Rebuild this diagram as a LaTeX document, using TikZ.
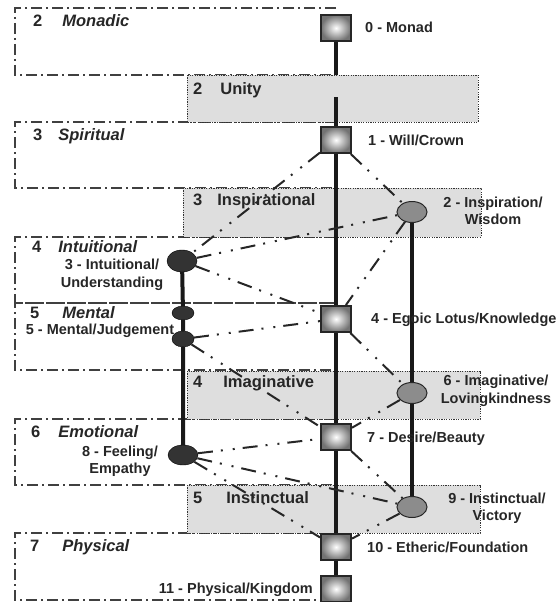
\documentclass[tikz,border=0pt]{standalone}
\usepackage{fontspec}
\setmainfont{Liberation Sans}
\usetikzlibrary{shapes.geometric}

\tikzset{
  level/.style={black!75, line width=1.4pt, dash pattern=on 11pt off 4pt on 2pt off 4pt},
  band/.style={fill=black!13, draw=black!80, line width=1pt, dash pattern=on 1.2pt off 1.2pt},
  sefira/.style={rectangle, minimum width=30pt, minimum height=26pt, inner sep=0pt,
    draw=black!85, line width=2pt, inner color=white, outer color=black!55},
  dark/.style={ellipse, fill=black!80, draw=black, minimum width=30pt, minimum height=21pt, inner sep=0pt},
  pale/.style={ellipse, fill=black!45, draw=black!85, line width=1pt, minimum width=30pt, minimum height=21pt, inner sep=0pt},
  trunk/.style={line width=4pt, black!90},
  link/.style={line width=2pt, black!85, dash pattern=on 15pt off 8pt on 2pt off 10pt on 2pt off 8pt},
  tag/.style={font=\bfseries\fontsize{14.5}{17.5}\selectfont, text=black!85, inner sep=0pt},
  lvl/.style={font=\bfseries\fontsize{16.5}{18}\selectfont, text=black!85, inner sep=0pt, anchor=base west}
}

\begin{document}
\begin{tikzpicture}[x=1pt,y=-1pt]
\useasboundingbox (0,0) rectangle (555,602);

% planes
\draw[level] (336,8) -- (15,8) -- (15,75) -- (336,75);
\draw[level] (336,122) -- (15,122) -- (15,188) -- (336,188);
\draw[level] (336,237) -- (15,237) -- (15,303) -- (336,303);
\draw[level] (336,303) -- (15,303) -- (15,370) -- (336,370);
\draw[level] (336,419) -- (15,419) -- (15,485) -- (336,485);
\draw[level] (336,533) -- (15,533) -- (15,600) -- (336,600);

\node[lvl] (monadic) at (33,27) {2\hspace{20pt}\textit{Monadic}};
\node[lvl] (spiritual) at (33,140) {3\hspace{16pt}\textit{Spiritual}};
\node[lvl] (intuitional) at (32,252) {4\hspace{17pt}\textit{Intuitional}};
\node[lvl] (mental) at (30,318) {5\hspace{23pt}\textit{Mental}};
\node[lvl] (emotional) at (31,437) {6\hspace{18pt}\textit{Emotional}};
\node[lvl] (physical) at (30,551) {7\hspace{23pt}\textit{Physical}};

% bands
\draw[band] (187,75) rectangle (478,122);
\draw[band] (183,188) rectangle (481,237);
\draw[band] (187,371) rectangle (480,419);
\draw[band] (187,485) rectangle (480,533);

\node[lvl] (unity) at (193,94) {2\hspace{18pt}Unity};
\node[lvl] (inspirational) at (193,205) {3\hspace{15pt}Inspirational};
\node[lvl] (imaginative) at (193,387) {4\hspace{21pt}Imaginative};
\node[lvl] (instinctual) at (193,503) {5\hspace{24pt}Instinctual};

% centres
\node[sefira] (monad) at (336,28) {};
\node[sefira] (will) at (336,140) {};
\node[pale] (wisdom) at (412,212) {};
\node[dark, minimum height=22pt] (understanding) at (182,261) {};
\node[dark, minimum width=22pt, minimum height=14pt] (knot) at (183,313) {};
\node[dark, minimum width=22pt, minimum height=16pt] (judgement) at (183,339) {};
\node[sefira] (lotus) at (336,319) {};
\node[pale] (lovingkindness) at (412,393) {};
\node[sefira] (beauty) at (336,437) {};
\node[dark, minimum height=20pt] (empathy) at (183,455) {};
\node[pale] (victory) at (412,507) {};
\node[sefira] (foundation) at (336,547) {};
\node[sefira] (kingdom) at (336,589) {};

\coordinate (unitytop) at (336,75);
\coordinate (unitymid) at (336,97);

\draw[trunk] (monad) -- (unitytop);
\draw[trunk] (unitymid) -- (will);
\draw[trunk] (will) -- (lotus) -- (beauty) -- (foundation) -- (kingdom);
\draw[trunk] (understanding) -- (knot) -- (judgement) -- (empathy);
\draw[trunk] (wisdom) -- (lovingkindness) -- (victory);

\draw[link] (will) -- (understanding)
            (will) -- (wisdom)
            (understanding) -- (wisdom)
            (understanding) -- (lotus)
            (wisdom) -- (lotus)
            (judgement) -- (lotus)
            (judgement) -- (beauty)
            (lotus) -- (lovingkindness)
            (lovingkindness) -- (beauty)
            (empathy) -- (beauty)
            (empathy) -- (victory)
            (empathy) -- (foundation)
            (beauty) -- (victory)
            (victory) -- (foundation);

% names
\node[tag, anchor=base west] (t-monad) at (365,33) {0 - Monad};
\node[tag, anchor=base west] (t-will) at (368,145) {1 - Will/Crown};
\node[tag, align=center] (t-wisdom) at (493,211) {2 - Inspiration/\\Wisdom};
\node[tag, align=center] (t-understanding) at (112,275) {3 - Intuitional/\\Understanding};
\node[tag, anchor=base west] (t-lotus) at (371,323) {4 - Egoic Lotus/Knowledge};
\node[tag, anchor=base] (t-judgement) at (100,334) {5 - Mental/Judgement};
\node[tag, align=center] (t-lovingkindness) at (496,391) {6 - Imaginative/\\Lovingkindness};
\node[tag, anchor=base west] (t-beauty) at (367,442) {7 - Desire/Beauty};
\node[tag, align=center] (t-empathy) at (120,461) {8 - Feeling/\\Empathy};
\node[tag, align=center] (t-victory) at (497,508) {9 - Instinctual/\\Victory};
\node[tag, anchor=base west] (t-foundation) at (367,552) {10 - Etheric/Foundation};
\node[tag, anchor=base east] (t-kingdom) at (313,593) {11 - Physical/Kingdom};
\end{tikzpicture}
\end{document}
